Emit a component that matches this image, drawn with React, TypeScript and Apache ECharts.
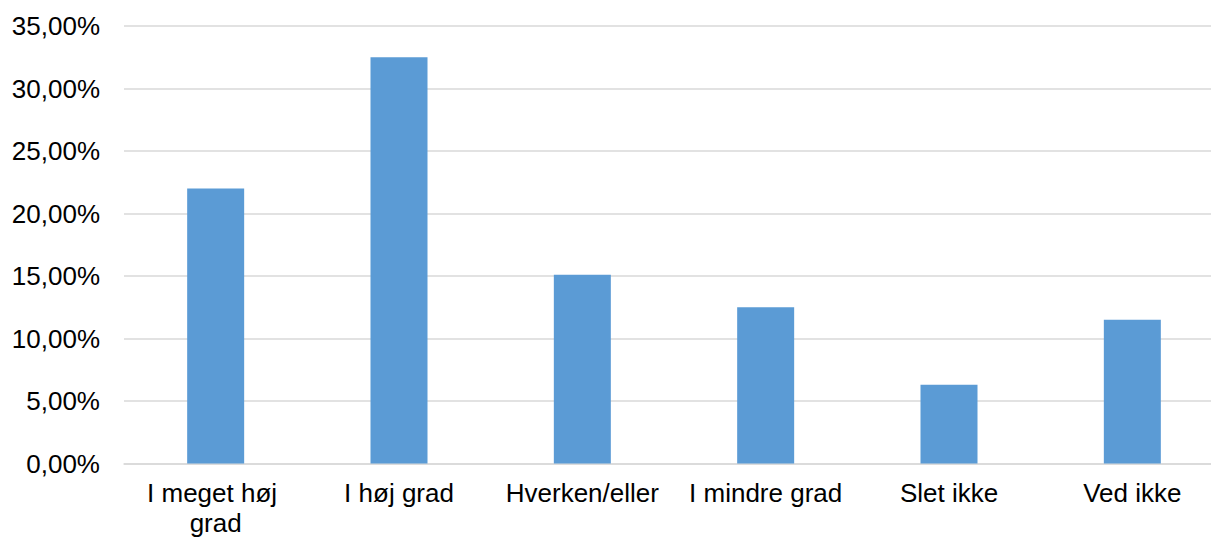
import React, { useEffect, useRef } from "react";
import * as echarts from "echarts";

const categories = ["I meget høj grad", "I høj grad", "Hverken/eller", "I mindre grad", "Slet ikke", "Ved ikke"];
const values = [22.0, 32.5, 15.1, 12.5, 6.3, 11.5];
const yMin = 0;
const yMax = 35;
const yInterval = 5;

export default function App() {
  const ref = useRef<HTMLDivElement>(null);
  useEffect(() => {
    if (!ref.current) return;
    const chart = echarts.init(ref.current, undefined, { renderer: "svg" });
    chart.setOption({
      animation: false,
      backgroundColor: "#ffffff",
      textStyle: { fontFamily: "Liberation Sans, Arial, sans-serif" },
      grid: {
        left: 124,
        top: 26,
        right: -13,
        bottom: 77.5,
        containLabel: false,
        outerBoundsMode: "none",
      },
      xAxis: {
        type: "category",
        data: categories,
        axisLine: { show: true, lineStyle: { color: "#d9d9d9", width: 1.5 } },
        axisTick: { show: false },
        axisLabel: {
          color: "#000",
          fontSize: 26,
          fontFamily: "Liberation Sans, Arial, sans-serif",
          margin: 14,
          width: 175,
          overflow: "break",
          lineHeight: 30,
          interval: 0,
        },
      },
      yAxis: {
        type: "value",
        min: yMin,
        max: yMax,
        interval: yInterval,
        axisLine: { show: false },
        axisTick: { show: false },
        splitLine: { lineStyle: { color: "#d9d9d9", width: 1.5 } },
        axisLabel: {
          color: "#000",
          fontSize: 26,
          fontFamily: "Liberation Sans, Arial, sans-serif",
          margin: 24,
          formatter: (v: number) => v.toFixed(2).replace(".", ",") + "%",
        },
      },
      series: [
        {
          type: "bar",
          data: values,
          barWidth: 57,
          itemStyle: { color: "#5b9bd5" },
        },
      ],
    });
    return () => chart.dispose();
  }, []);
  return (
    <div
      ref={ref}
      style={{ position: "fixed", left: 0, top: 0, width: 1211, height: 541, background: "#fff" }}
    />
  );
}
